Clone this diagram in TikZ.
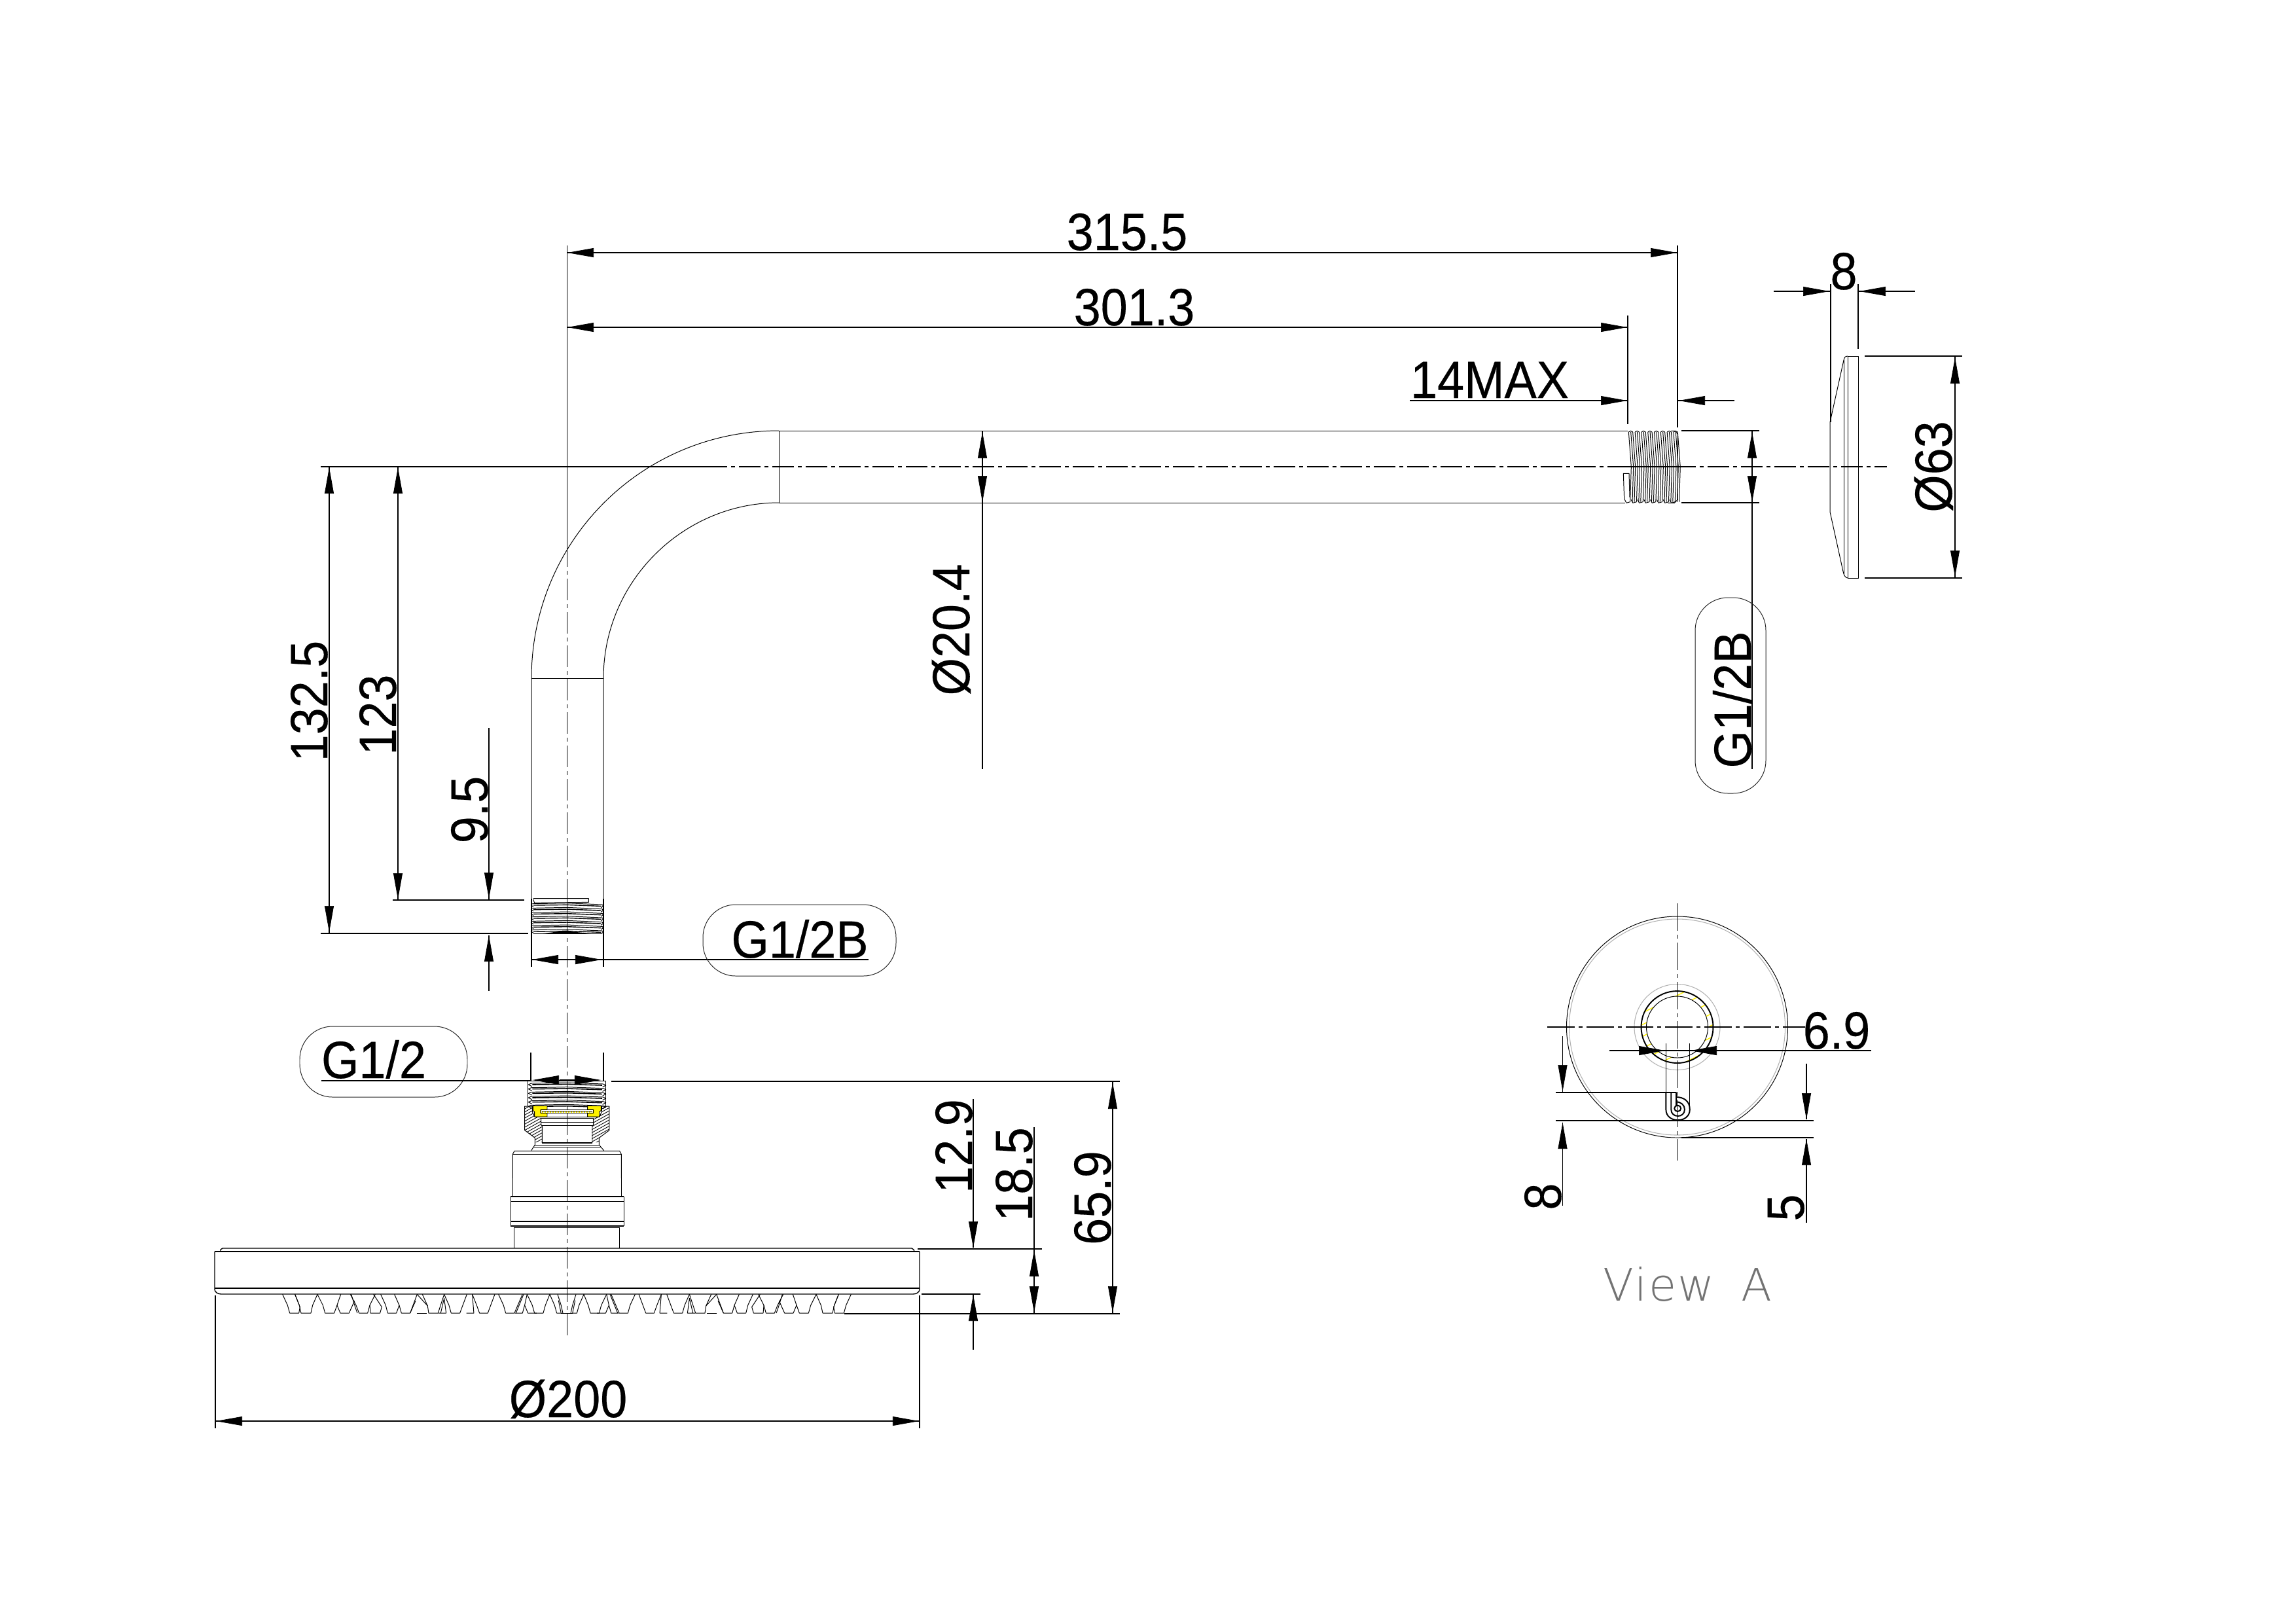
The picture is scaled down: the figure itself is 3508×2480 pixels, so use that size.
\documentclass[tikz,border=0pt]{standalone}
\usepackage{graphicx}
\usepackage{fontspec}
\setmainfont{Liberation Sans}[FakeBold=0.3]
\newfontfamily\thinfont[LetterSpace=4]{DejaVu Sans ExtraLight}
\usetikzlibrary{arrows.meta}
\newcommand\dimt[1]{\scalebox{.92}[1]{#1}}
\tikzset{
  fine/.style={line width=0.28pt,line join=round},
  dimline/.style={line width=0.4pt},
  bold/.style={line width=0.55pt,line join=round},
  ahead/.style={line width=0.2pt,-{Triangle[length=0.4cm,width=0.14cm]}},
  centerl/.style={line width=0.4pt,dash pattern=on 0.33cm off 0.06cm on 0.06cm off 0.06cm},
  lbl/.style={inner sep=0pt,anchor=base,font=\fontsize{22.8}{24}\selectfont},
  capsule/.style={line width=0.28pt,draw=black!85,rounded corners=0.5cm},
  hatchl/.style={line width=0.25pt},
}
\newcommand\nozzleset{%
 \draw[fine] (335,232)--(358,282)--(368,318)--(410,318)--(415,290)--(392,232);
 \draw[fine] (392,232)--(412,282)--(420,318)--(465,318)--(473,282)--(495,232);
 \draw[fine] (495,232)--(520,282)--(530,318)--(572,318)--(585,282)--(602,232);
 \draw[fine] (585,282)--(600,318)--(640,318)--(665,262);
 \draw[fine] (646,232)--(672,282)--(686,318)--(725,318)--(735,282)--(760,232);
 \draw[fine] (650,232)--(668,290)--(678,318);
 \draw[fine] (738,318)--(782,318)--(790,290)--(752,232);
 \draw[fine] (738,318)--(735,282);
 \draw[fine] (785,232)--(808,282)--(817,318)--(857,318)--(870,282)--(880,318)--(920,318)--(945,262);
 \draw[fine] (848,232)--(870,282);
 \draw[fine] (952,232)--(920,318);
 \draw[fine] (952,232)--(1000,285)--(1005,318)--(1048,318)--(1076,232);
 \draw[fine] (976,232)--(1000,285);
 \draw[fine] (950,318)--(997,318);
 \draw[fine] (1076,232)--(1098,282)--(1108,318)--(1148,318)--(1180,232);
 \draw[fine] (1060,318)--(1076,250)--(1085,318)--(1050,318);
 \draw[fine] (1178,318)--(1212,318)--(1205,232);
 \draw[fine] (1205,232)--(1225,282)--(1238,318)--(1276,318)--(1308,232);
 \draw[fine] (1325,232)--(1348,282)--(1358,318)--(1398,318)--(1435,232);
 \draw[fine] (1405,318)--(1440,232);
 \draw[fine] (1400,318)--(1435,318)--(1445,282)--(1456,232);
 \draw[fine] (1456,232)--(1480,282)--(1490,318)--(1530,318)--(1540,282)--(1560,232);
 \draw[fine] (1445,282)--(1460,318)--(1500,318);
 \draw[fine] (1560,232)--(1582,282)--(1592,318)--(1612,318)--(1600,260);
 \draw[fine] (1612,318)--(1638,318);
 \draw[fine] (1596,232)--(1612,282)--(1620,318);
}
\begin{document}
\begin{tikzpicture}[x=0.01cm,y=-0.01cm]
\useasboundingbox (0,0) rectangle (3508,2480);
\fill[white] (0,0) rectangle (3508,2480);

%% ---------- arm ----------
\draw[fine] (2487,658)--(1190,658)--(1190,768)--(2483,768);
\draw[fine] (1190,658) .. controls (980,658) and (812,827) .. (812,1036) -- (812,1373);
\draw[fine] (1190,768) .. controls (1044,768) and (922,888) .. (922,1036) -- (922,1373);
\draw[fine] (812,1036)--(922,1036);

%% centre lines of the arm
\draw[dimline] (490,713)--(1078,713);
\draw[centerl] (1078,713)--(2883,713);
\draw[dimline] (2487,713)--(2590,713);
\draw[dimline] (866.5,375)--(866.5,845);
\draw[centerl] (866.5,833)--(866.5,2045);
\draw[dimline] (866.5,1344)--(866.5,1426);

%% horizontal-end thread
\begin{scope}[shift={(2440,600)},scale=0.3333]
\foreach \i in {0,...,7}{
  \pgfmathsetmacro\a{145+29.4*\i}
  \draw[fine] (\a,180)--(\a+12,340)--(\a+7,500);
  \draw[fine] (\a+10,180)--(\a+22,340)--(\a+17,500);
  \draw[fine] (\a+19,180)--(\a+31,340)--(\a+26,500);
  \draw[fine] (\a,180)--(\a+9,175)--(\a+19,180);
  \draw[fine] (\a-18,490)--(\a-10,505)--(\a+7,500);
}
\draw[fine] (340,175)--(358,175)--(370,190)--(370,490)--(355,505)--(325,505);
\draw[fine] (125,490)--(121,370)--(147,370)--(150,480);
\end{scope}

%% vertical-end thread
\begin{scope}[shift={(780,1340)},scale=0.3333]
\draw[fine] (105,98)--(358,98)--(358,115)--(110,118)--(105,105)--(105,98);
\foreach \i in {0,...,6}{
  \pgfmathsetmacro\b{122+20*\i}
  \draw[fine] (100,\b)--(260,\b-3)--(420,\b+4);
  \draw[line width=0.4pt] (105,\b+7)--(260,\b+5)--(415,\b+11);
  \draw[fine] (100,\b)--(94,\b+6)--(105,\b+14);
  \draw[fine] (420,\b+4)--(425,\b+10)--(415,\b+18);
}
\draw[fine] (105,258)--(415,258);
\fill (150,258)--(260,245)--(280,250)--(370,258)--cycle;
\end{scope}

%% ---------- shower head and connector ----------
\begin{scope}[shift={(750,1600)},scale=0.3333]
% hatching of the nut
\begin{scope}
  \clip (155,270)--(190,270)--(190,295)--(200,318)--(230,325)--(230,355)--(235,360)--(235,435)--(202,435)--(202,415)--(155,380)--cycle
        (543,270)--(508,270)--(508,295)--(498,318)--(468,325)--(468,355)--(463,360)--(463,435)--(496,435)--(496,415)--(543,380)--cycle;
  \foreach \k in {0,...,40}{
    \draw[hatchl] (130,340+14*\k-100)--(580,340+14*\k-100-250);
  }
\end{scope}
% male thread
\draw[fine] (170,155)--(527,155);
\foreach \i in {0,...,5}{
  \pgfmathsetmacro\b{165+20*\i}
  \draw[fine] (185,\b)--(350,\b-3)--(515,\b+3);
  \draw[line width=0.45pt] (190,\b+6)--(350,\b+4)--(510,\b+9);
  \draw[fine] (185,\b)--(172,\b+6)--(188,\b+14);
  \draw[fine] (515,\b+3)--(527,\b+9)--(512,\b+17);
}
\draw[fine] (170,155)--(170,270);
\draw[fine] (527,155)--(527,270);
% nut outline
\draw[fine] (190,270)--(155,270)--(155,380)--(202,415)--(202,447)--(185,473);
\draw[fine] (508,270)--(543,270)--(543,380)--(496,415)--(496,447)--(518,473);
% seat and bore
\draw[fine] (190,270)--(190,295)--(200,318);
\draw[fine] (508,270)--(508,295)--(498,318);
\draw[fine] (200,320)--(498,320);
\draw[fine] (230,325)--(470,325);
\draw[fine] (230,343)--(470,343);
\draw[fine] (230,325)--(230,355)--(235,360)--(235,437);
\draw[fine] (470,325)--(470,355)--(465,360)--(465,437);
\draw[fine] (235,358)--(465,358);
\draw[bold] (235,437)--(465,437);
\draw[fine] (202,447)--(496,447);
\draw[fine] (196,458)--(504,458);
% gasket
\draw[fine,fill=yellow] (193,268)--(258,268)--(258,285)--(228,285)--(228,302)--(258,302)--(258,318)--(200,318)--(200,295)--(193,290)--cycle;
\draw[fine,fill=yellow] (505,268)--(443,268)--(443,285)--(470,285)--(470,302)--(443,302)--(443,318)--(498,318)--(498,295)--(505,290)--cycle;
\draw[fine,fill=white] (228,285) rectangle (470,302);
\draw[line width=1pt,yellow,dash pattern=on 0.02cm off 0.02cm] (235,296)--(465,296);
\draw[fine] (235,291)--(465,291) (235,301)--(465,301);
% top of the upper cylinder
\draw[fine] (100,600)--(100,490)--(108,475)--(590,475)--(598,490)--(598,600);
\draw[fine] (100,490)--(598,490);
\end{scope}
% upper cylinder, ring and lower cylinder
\draw[fine] (783,1800)--(783,1828) (949,1800)--(949,1828);
\draw[bold] (780,1828)--(953,1828);
\draw[fine] (780,1828)--(780,1873) (953,1828)--(953,1873);
\draw[fine] (780,1835)--(953,1835);
\draw[fine] (780,1865)--(953,1865);
\draw[fine] (780,1866)--(953,1866);
\draw[bold] (780,1873)--(953,1873);
\draw[fine] (785,1875)--(946,1875);
\draw[fine] (785,1875)--(785,1907) (946,1875)--(946,1907);
% disc
\draw[dimline] (337,1912)--(337,1909)--(340,1907)--(1393,1907)--(1396,1909)--(1397,1912);
\draw[bold] (328,1912)--(1405,1912);
\draw[dimline] (328,1912)--(328,1970) .. controls (328,1974) and (333,1977) .. (338,1977)--(1395,1977) .. controls (1400,1977) and (1405,1974) .. (1405,1970)--(1405,1912);
\draw[bold] (328,1968)--(1405,1968);
\begin{scope}[shift={(320,1900)},scale=0.3333]\nozzleset\end{scope}
\begin{scope}[shift={(1412,1900)},xscale=-0.3333,yscale=0.3333]\nozzleset\end{scope}

%% ---------- dimensions: arm ----------
\draw[dimline] (866.5,386)--(2563,386);
\draw[ahead] (909,386)--(867,386);
\draw[ahead] (2520,386)--(2562,386);
\draw[dimline] (866.5,500)--(2487,500);
\draw[ahead] (909,500)--(867,500);
\draw[ahead] (2444,500)--(2486,500);
\draw[dimline] (2563,375)--(2563,653);
\draw[dimline] (2487,482)--(2487,648);
\draw[dimline] (2154,612)--(2487,612);
\draw[ahead] (2444,612)--(2486,612);
\draw[dimline] (2564,612)--(2650,612);
\draw[ahead] (2607,612)--(2565,612);
\draw[dimline] (2569,658)--(2688,658);
\draw[dimline] (2569,768)--(2688,768);
\draw[dimline] (2677,658)--(2677,1175);
\draw[ahead] (2677,702)--(2677,660);
\draw[ahead] (2677,725)--(2677,767);
\draw[dimline] (1501,658)--(1501,1175);
\draw[ahead] (1501,702)--(1501,660);
\draw[ahead] (1501,725)--(1501,767);
% left stack
\draw[dimline] (503,713)--(503,1425);
\draw[ahead] (503,755)--(503,714);
\draw[ahead] (503,1383)--(503,1424);
\draw[dimline] (490,1426)--(807,1426);
\draw[dimline] (608,713)--(608,1375);
\draw[ahead] (608,755)--(608,714);
\draw[ahead] (608,1333)--(608,1374);
\draw[dimline] (600,1375)--(801,1375);
\draw[dimline] (747,1112)--(747,1374);
\draw[ahead] (747,1332)--(747,1373);
\draw[dimline] (747,1429)--(747,1514);
\draw[ahead] (747,1471)--(747,1429);
% thread dim
\draw[dimline] (812,1373)--(812,1477) (922,1373)--(922,1477);
\draw[dimline] (812,1466)--(1327,1466);
\draw[ahead] (855,1466)--(813,1466);
\draw[ahead] (878,1466)--(919,1466);
% capsules
\draw[capsule] (1074,1382) rectangle (1369,1491);
\draw[capsule] (458,1568) rectangle (714,1676);
\draw[capsule] (2590,913) rectangle (2698,1212);
% plate
\draw[fine] (2839,544) rectangle (2823,883);
\draw[fine] (2817,550)--(2817,877);
\draw[fine] (2823,544) .. controls (2819,544) and (2817,547) .. (2817,550)--(2796,645)--(2796,782)--(2816,873) .. controls (2817,879) and (2820,883) .. (2823,883);
\draw[dimline] (2797,434)--(2797,645);
\draw[dimline] (2839,434)--(2839,533);
\draw[dimline] (2710,445)--(2797,445);
\draw[ahead] (2753,445)--(2795,445);
\draw[dimline] (2839,445)--(2926,445);
\draw[ahead] (2883,445)--(2841,445);
\draw[dimline] (2849,544)--(2998,544);
\draw[dimline] (2849,883)--(2998,883);
\draw[dimline] (2987,544)--(2987,883);
\draw[ahead] (2987,587)--(2987,546);
\draw[ahead] (2987,841)--(2987,881);
% head dims
\draw[dimline] (811,1608)--(811,1652) (922,1608)--(922,1652);
\draw[dimline] (491,1651)--(811,1651);
\draw[ahead] (855,1650)--(814,1650);
\draw[ahead] (878,1650)--(918,1650);
\draw[dimline] (855,1650)--(878,1650);
\draw[dimline] (934,1652)--(1711,1652);
\draw[dimline] (1290,2007)--(1711,2007);
\draw[dimline] (1700,1652)--(1700,2007);
\draw[ahead] (1700,1695)--(1700,1654);
\draw[ahead] (1700,1963)--(1700,2005);
\draw[dimline] (1402,1908)--(1592,1908);
\draw[dimline] (1580,1722)--(1580,2007);
\draw[ahead] (1580,1951)--(1580,1910);
\draw[ahead] (1580,1963)--(1580,2005);
\draw[dimline] (1487,1679)--(1487,1906);
\draw[ahead] (1487,1864)--(1487,1906);
\draw[dimline] (1408,1977)--(1498,1977);
\draw[dimline] (1487,1977)--(1487,2062);
\draw[ahead] (1487,2020)--(1487,1978);
\draw[dimline] (329,1979)--(329,2182) (1405,1979)--(1405,2182);
\draw[dimline] (329,2171)--(1405,2171);
\draw[ahead] (372,2171)--(330,2171);
\draw[ahead] (1362,2171)--(1404,2171);

%% ---------- view A ----------
\draw[line width=0.28pt] (2562.5,1569) circle[radius=169];
\draw[line width=0.3pt,black!30] (2562.5,1569) circle[radius=165];
\draw[line width=0.3pt,black!30] (2562.5,1569) circle[radius=65.5];
\begin{scope}[even odd rule]
  \clip (2562.5,1569) circle[radius=55] (2562.5,1569) circle[radius=47];
  \foreach \k in {0,...,9}{
    \draw[line width=0.4pt,yellow] (2480,1640-18*\k+30)--(2640,1640-18*\k-50);
  }
\end{scope}
\draw[bold] (2562.5,1569) circle[radius=55];
\draw[fine] (2562.5,1569) circle[radius=47];
\draw[dimline,dash pattern=on 0.42cm off 0.06cm on 0.06cm off 0.06cm] (2364,1569)--(2758,1569);
\draw[dimline,dash pattern=on 0.42cm off 0.06cm on 0.06cm off 0.06cm] (2562.5,1380)--(2562.5,1773);
\begin{scope}[shift={(2340,1380)},xscale=0.35714,yscale=0.3333]
\draw[fine] (575,643)--(575,868) (677,643)--(677,945);
\draw[bold] (575,868)--(618,868)--(618,930);
\draw[bold] (575,868)--(575,945) .. controls (575,1010) and (677,1010) .. (677,945) .. controls (677,905) and (650,888) .. (618,888);
\draw[bold] (597,868)--(597,945) .. controls (597,985) and (655,985) .. (655,945) .. controls (655,925) and (640,910) .. (618,910);
\draw[bold] (625,940) circle[radius=14];
\end{scope}
\draw[dimline] (2459,1605)--(2859,1605);
\draw[ahead] (2502,1605)--(2544,1605);
\draw[ahead] (2625,1605)--(2583,1605);
\draw[dimline] (2387.5,1583)--(2387.5,1669);
\draw[ahead] (2387.5,1627)--(2387.5,1667);
\draw[dimline] (2377,1669)--(2545,1669);
\draw[dimline] (2377,1712)--(2771,1712);
\draw[dimline] (2387.5,1715)--(2387.5,1842);
\draw[ahead] (2387.5,1755)--(2387.5,1715);
\draw[dimline] (2760,1625)--(2760,1710);
\draw[ahead] (2760,1668)--(2760,1710);
\draw[dimline] (2569,1738)--(2771,1738);
\draw[dimline] (2760,1740)--(2760,1868);
\draw[ahead] (2760,1782)--(2760,1740);

%% ---------- texts ----------
\node[lbl] (t1) at (1722,382) {\dimt{315.5}};
\node[lbl] (t2) at (1733,497) {\dimt{301.3}};
\node[lbl] (t3) at (2276,608) {\dimt{14MAX}};
\node[lbl] (t4) at (2817,442) {\dimt{8}};
\node[lbl] (t5) at (1222,1463) {\dimt{G1/2B}};
\node[lbl] (t6) at (571,1647) {\dimt{G1/2}};
\node[lbl] (t7) at (2806,1602) {\dimt{6.9}};
\node[lbl] (t8) at (868,2165) {\dimt{Ø200}};
\node[lbl,rotate=90] (t9) at (500,1071) {\dimt{132.5}};
\node[lbl,rotate=90] (t10) at (605,1092) {\dimt{123}};
\node[lbl,rotate=90] (t11) at (745,1237) {\dimt{9.5}};
\node[lbl,rotate=90] (t12) at (1481,962) {\dimt{Ø20.4}};
\node[lbl,rotate=90] (t13) at (2675,1069) {\dimt{G1/2B}};
\node[lbl,rotate=90] (t14) at (2982,713) {\dimt{Ø63}};
\node[lbl,rotate=90] (t15) at (1485,1751) {\dimt{12.9}};
\node[lbl,rotate=90] (t16) at (1577,1794) {\dimt{18.5}};
\node[lbl,rotate=90] (t17) at (1697,1830) {\dimt{65.9}};
\node[lbl,rotate=90] (t18) at (2385,1828) {\dimt{8}};
\node[lbl,rotate=90] (t19) at (2756,1845) {\dimt{5}};
\node[inner sep=0pt,anchor=base,font=\thinfont\fontsize{19.5}{22}\selectfont,text=black!55] (t20) at (2578,1987) {View\hspace{0.4cm}A};
\end{tikzpicture}
\end{document}
